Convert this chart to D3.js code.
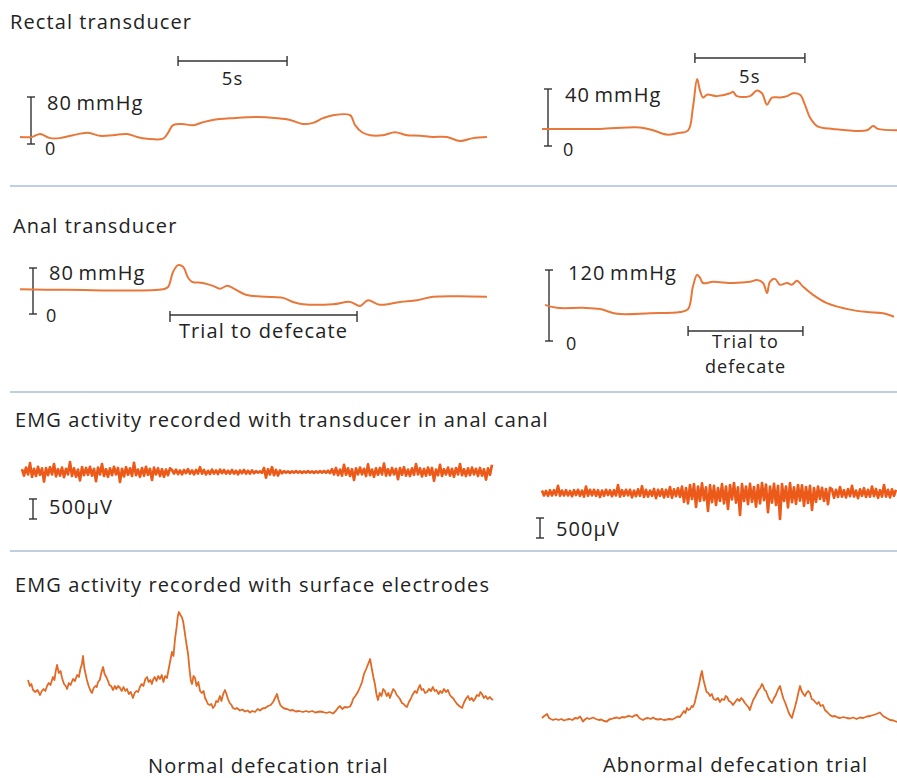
<!DOCTYPE html>
<html>
<head>
<meta charset="utf-8">
<script src="https://cdn.jsdelivr.net/npm/d3@7"></script>
<style>
  body { margin: 0; background: #fff; }
  svg { display: block; }
  text { font-family: "Open Sans", sans-serif; fill: #222; font-weight: 500; letter-spacing: 1.1px; }
</style>
</head>
<body>
<svg id="chart" width="897" height="778"></svg>
<script>
// ---- data: [time (s), pressure (mmHg)] ----
var rectalNormal = [[0,12],[0.55,12],[0.92,17],[1.38,10],[1.83,10],[2.43,15],[3.12,19],[3.67,14],[4.27,15],[4.91,17],[5.37,12],[5.83,9],[6.56,9],[6.79,19],[7.02,32],[7.43,34],[7.94,32],[8.39,37],[8.85,41],[9.77,44],[10.87,46],[11.79,44],[12.39,41],[12.98,34],[13.44,36],[13.9,44],[14.36,49],[15.14,49],[15.37,32],[15.69,20],[16.06,15],[16.65,15],[17.2,20],[17.75,15],[18.35,14],[18.94,12],[19.59,12],[20.18,5],[20.78,10],[21.42,12]];
var rectalAbnormal = [[0,12],[1.14,12],[2.64,12],[4.45,13],[5.05,11],[5.68,8],[6.14,9],[6.64,11],[6.86,27],[7.05,47],[7.18,39],[7.32,34],[7.5,36],[7.95,35],[8.55,37],[8.68,38],[8.86,35],[9.45,35],[9.77,39],[10.0,37],[10.23,29],[10.45,34],[10.82,34],[11.14,35],[11.41,37],[11.73,36],[11.95,29],[12.18,20],[12.5,14],[13.23,12],[14.77,11],[15.05,14],[15.27,12],[16.14,11]];
var analNormal = [[0,43],[2.16,42],[6.56,43],[6.79,47],[7.02,73],[7.25,85],[7.48,82],[7.71,63],[7.89,56],[8.39,54],[8.85,49],[9.17,44],[9.5,49],[9.77,45],[10.41,33],[11.33,30],[12.06,28],[12.52,21],[12.98,17],[14.36,17],[15.14,21],[15.6,14],[15.96,24],[16.51,16],[17.43,21],[18.21,24],[18.94,30],[20.18,31],[21.42,30]];
var analAbnormal = [[0.14,61],[0.68,56],[1.86,56],[2.64,54],[3.41,46],[4.91,47],[6.27,49],[6.64,54],[6.86,92],[7.05,112],[7.18,107],[7.32,98],[7.77,100],[8.68,98],[9.45,100],[9.77,103],[10.05,98],[10.23,81],[10.36,100],[10.59,105],[10.82,95],[11.14,98],[11.36,95],[11.59,102],[11.86,92],[12.32,78],[12.95,64],[14,53],[14.77,49],[15.5,47],[16,41]];

// EMG, transducer in anal canal (µV, one sample per step)
var emgCanalNormal = [
  70,-90,110,-60,220,-120,80,-100,130,-70,90,-240,100,-80,120,-60,200,-110,70,-90,
  110,-130,80,-60,250,-100,90,-120,60,-210,120,-80,100,-70,130,-90,80,-230,110,-60,
  200,-100,70,-120,90,-80,130,-60,100,-250,80,-110,120,-70,90,-100,230,-80,60,-120,
  100,-90,130,-70,80,-200,110,-60,90,-100,70,-120,60,-80,90,
  50,-40,60,-50,40,-60,50,-30,70,-40,40,-60,50,-40,120,-40,50,-60,30,-50,
  60,-40,40,-50,60,-30,50,-40,30,-40,50,-40,30,-60,40,-30,50,-40,30,-40,40,-30,
  20,-15,15,-20,100,-140,70,-60,120,-80,50,-90,40,-30,20,-15,15,-20,15,-15,
  20,-15,15,-20,15,-15,20,-15,15,-20,15,-15,20,-15,25,-20,30,-25,
  70,-60,100,-80,60,-90,180,-70,90,-100,70,-200,90,-60,110,-60,80,-100,190,-80,
  60,-120,90,-70,100,-60,210,-90,70,-80,100,-60,80,-180,100,-70,120,-90,60,-100,
  90,-70,200,-60,90,-110,80,-90,110,-70,100,-220,60,-80,180,-100,70,-60,110,-90,
  80,-120,100,-60,200,-80,70,-100,90,-80,110,-60,80,-100,100,-90,70,-190,90,-70,180
];
var emgCanalAbnormal = [
  60,-60,50,-70,70,-60,70,-50,180,-70,60,-60,70,-60,50,-80,70,-50,80,-70,
  60,-90,160,-70,80,-60,80,-70,70,-100,60,-70,80,-50,70,-80,70,-60,200,-90,
  70,-70,80,-60,80,-110,60,-80,90,-70,170,-100,80,-90,60,-70,100,-130,80,-70,
  90,-110,80,-90,150,-120,90,-80,120,-100,
  160,-220,120,-260,200,-150,220,-350,160,-200,240,-180,140,-450,200,-230,180,-300,120,-200,
  220,-260,160,-400,200,-160,250,-240,140,-550,220,-200,160,-280,230,-220,150,-340,200,-260,
  250,-180,210,-480,160,-240,230,-300,180,-650,220,-200,160,-360,250,-230,140,-270,200,-190,
  190,-320,150,-250,180,-420,120,-220,160,-150,130,-200,100,-280,130,
  90,-120,80,-100,150,-90,70,-110,100,-80,180,-90,60,-130,90,-70,120,-100,80,-90,
  160,-80,100,-120,70,-90,200,-90,80,-110,90,-70,80
];

// EMG, surface electrodes: [time (s), amplitude (µV)]
var surfaceNormal = [[0.37,360],[0.45,300],[0.52,320],[0.6,260],[0.7,240],[0.8,260],[0.92,210],[1.0,250],[1.08,270],[1.16,250],[1.24,300],[1.32,330],[1.4,310],[1.51,390],[1.58,360],[1.64,450],[1.7,510],[1.78,430],[1.86,450],[1.93,380],[2.02,320],[2.1,300],[2.16,270],[2.24,330],[2.32,310],[2.43,370],[2.52,350],[2.62,410],[2.7,390],[2.77,470],[2.84,520],[2.89,600],[2.95,480],[3.01,420],[3.07,360],[3.15,300],[3.22,260],[3.3,230],[3.38,280],[3.46,300],[3.52,290],[3.58,340],[3.66,360],[3.74,440],[3.81,490],[3.88,420],[3.96,390],[4.04,350],[4.1,310],[4.18,300],[4.27,260],[4.35,300],[4.42,270],[4.5,300],[4.59,280],[4.67,250],[4.75,290],[4.83,250],[4.91,270],[4.99,220],[5.08,240],[5.18,180],[5.26,230],[5.34,250],[5.42,240],[5.5,290],[5.58,320],[5.66,300],[5.75,370],[5.83,390],[5.9,340],[5.98,360],[6.05,320],[6.1,360],[6.18,390],[6.26,350],[6.34,400],[6.42,370],[6.5,410],[6.58,340],[6.66,400],[6.74,380],[6.82,470],[6.9,560],[6.97,640],[7.04,600],[7.11,770],[7.18,880],[7.24,1000],[7.29,1040],[7.36,1010],[7.42,990],[7.48,950],[7.55,850],[7.62,740],[7.71,620],[7.78,460],[7.84,350],[7.89,320],[7.96,400],[8.03,380],[8.1,300],[8.18,340],[8.26,250],[8.34,230],[8.42,250],[8.49,180],[8.56,150],[8.62,120],[8.7,110],[8.78,120],[8.85,80],[8.93,100],[9.0,150],[9.08,140],[9.17,200],[9.24,150],[9.32,220],[9.4,260],[9.47,220],[9.54,170],[9.62,130],[9.7,110],[9.77,80],[9.86,70],[9.95,80],[10.09,55],[10.2,65],[10.32,45],[10.44,55],[10.55,35],[10.66,50],[10.78,40],[10.9,70],[11.01,55],[11.12,75],[11.25,80],[11.38,100],[11.5,110],[11.61,140],[11.7,180],[11.79,220],[11.86,160],[11.94,110],[12.02,90],[12.12,75],[12.25,70],[12.39,55],[12.52,60],[12.65,45],[12.8,50],[12.98,40],[13.12,50],[13.25,40],[13.4,50],[13.55,35],[13.76,45],[13.9,40],[14.05,30],[14.2,40],[14.36,25],[14.48,50],[14.58,80],[14.68,100],[14.78,70],[14.9,90],[15.02,85],[15.14,95],[15.22,130],[15.28,170],[15.38,200],[15.5,240],[15.6,290],[15.69,340],[15.78,420],[15.88,470],[15.97,520],[16.06,570],[16.14,470],[16.22,380],[16.28,320],[16.35,220],[16.42,160],[16.5,230],[16.58,200],[16.66,270],[16.74,250],[16.82,200],[16.9,230],[16.97,180],[17.05,230],[17.12,270],[17.2,250],[17.28,210],[17.36,190],[17.43,170],[17.52,130],[17.6,120],[17.68,100],[17.75,90],[17.84,140],[17.92,170],[18.0,210],[18.12,250],[18.2,230],[18.28,280],[18.35,310],[18.42,260],[18.5,270],[18.58,230],[18.67,240],[18.76,270],[18.85,250],[18.94,290],[19.02,250],[19.1,260],[19.2,220],[19.28,250],[19.36,230],[19.45,270],[19.54,240],[19.63,260],[19.72,210],[19.8,190],[19.86,180],[19.95,150],[20.05,120],[20.15,100],[20.28,80],[20.36,130],[20.45,170],[20.55,200],[20.63,160],[20.72,180],[20.8,150],[20.87,170],[20.96,210],[21.05,200],[21.12,240],[21.19,220],[21.28,180],[21.36,200],[21.45,170],[21.56,190],[21.63,170],[21.7,160]];
var surfaceAbnormal = [[0,70],[0.1,90],[0.23,110],[0.32,70],[0.4,60],[0.5,50],[0.62,60],[0.75,50],[0.88,60],[1.0,45],[1.14,55],[1.25,60],[1.38,50],[1.5,70],[1.62,65],[1.73,85],[1.8,60],[1.86,35],[1.95,55],[2.05,70],[2.15,60],[2.32,75],[2.45,60],[2.58,50],[2.7,55],[2.82,40],[2.95,35],[3.05,55],[3.15,60],[3.28,70],[3.41,75],[3.52,65],[3.64,80],[3.75,75],[3.86,85],[3.98,90],[4.1,80],[4.2,95],[4.32,100],[4.42,70],[4.5,60],[4.59,50],[4.7,65],[4.82,70],[4.94,60],[5.05,75],[5.16,60],[5.28,55],[5.4,60],[5.54,50],[5.68,55],[5.8,60],[5.92,55],[6.05,70],[6.17,85],[6.27,80],[6.36,110],[6.45,140],[6.52,120],[6.59,170],[6.66,150],[6.74,160],[6.8,190],[6.86,180],[6.94,220],[7.02,300],[7.09,360],[7.16,430],[7.22,500],[7.27,540],[7.33,460],[7.41,390],[7.48,330],[7.56,320],[7.64,290],[7.72,310],[7.8,260],[7.9,250],[8.0,270],[8.09,230],[8.18,260],[8.28,250],[8.35,290],[8.41,280],[8.5,240],[8.58,230],[8.68,200],[8.78,230],[8.88,260],[8.98,240],[9.06,270],[9.14,250],[9.22,220],[9.3,200],[9.38,180],[9.45,150],[9.52,200],[9.6,250],[9.68,280],[9.77,320],[9.84,350],[9.92,370],[10.0,410],[10.05,390],[10.12,350],[10.18,340],[10.23,310],[10.3,270],[10.38,240],[10.45,220],[10.55,270],[10.63,300],[10.72,350],[10.82,390],[10.9,320],[10.98,260],[11.06,220],[11.14,170],[11.22,120],[11.3,90],[11.36,70],[11.42,120],[11.5,180],[11.58,250],[11.66,330],[11.73,390],[11.8,340],[11.88,310],[11.95,290],[12.02,320],[12.1,340],[12.18,320],[12.26,260],[12.34,250],[12.42,230],[12.5,210],[12.58,230],[12.66,190],[12.77,200],[12.86,150],[12.96,130],[13.09,100],[13.2,85],[13.32,90],[13.44,75],[13.55,70],[13.7,80],[13.85,70],[14.0,65],[14.14,75],[14.3,60],[14.45,75],[14.6,70],[14.77,85],[14.92,90],[15.06,100],[15.2,110],[15.36,125],[15.5,90],[15.66,70],[15.82,50],[15.98,45],[16.14,30]];

// labels
var sectionTitles = ["Rectal transducer", "Anal transducer",
  "EMG activity recorded with transducer in anal canal",
  "EMG activity recorded with surface electrodes"];
var trialLabels = ["Normal defecation trial", "Abnormal defecation trial"];
var pressureMax = { rectalNormal: 80, rectalAbnormal: 40, analNormal: 80, analAbnormal: 120 };

// ---- drawing ----
var svg = d3.select('#chart');
var pressColor = '#e8773a', canalColor = '#ec5a1a', surfColor = '#e16a26', ink = '#333';

var xLeft = d3.scaleLinear().domain([0, 21.5]).range([20, 20 + 21.5 * 21.8]);
var xRight = d3.scaleLinear().domain([0, 16.2]).range([542, 542 + 16.2 * 22]);

function trace(data, x, y, color, width, curve) {
    var line = d3.line()
        .x(function(d) { return x(d[0]); })
        .y(function(d) { return y(d[1]); })
        .curve(curve || d3.curveLinear);
    svg.append('path')
        .datum(data)
        .attr('d', line)
        .attr('fill', 'none')
        .attr('stroke', color)
        .attr('stroke-width', width)
        .attr('stroke-linejoin', 'round');
}

function vBar(x, y1, y2, tick) {
    svg.append('line').attr('x1', x).attr('x2', x).attr('y1', y1).attr('y2', y2)
        .attr('stroke', ink).attr('stroke-width', 1.4);
    [y1, y2].forEach(function(yy) {
        svg.append('line').attr('x1', x - tick).attr('x2', x + tick).attr('y1', yy).attr('y2', yy)
            .attr('stroke', ink).attr('stroke-width', 1.4);
    });
}

function hBar(x1, x2, y, up, down) {
    svg.append('line').attr('x1', x1).attr('x2', x2).attr('y1', y).attr('y2', y)
        .attr('stroke', ink).attr('stroke-width', 1.6);
    [x1, x2].forEach(function(xx) {
        svg.append('line').attr('x1', xx).attr('x2', xx).attr('y1', y - up).attr('y2', y + down)
            .attr('stroke', ink).attr('stroke-width', 1.4);
    });
}

function label(txt, x, y, size, anchor) {
    return svg.append('text').attr('x', x).attr('y', y)
        .attr('font-size', size).attr('text-anchor', anchor || 'start').text(txt);
}

// separators
[186, 392, 551].forEach(function(y) {
    svg.append('line').attr('x1', 10).attr('x2', 897).attr('y1', y).attr('y2', y)
        .attr('stroke', '#a9bfd6').attr('stroke-width', 1.3);
});

// section titles
label(sectionTitles[0], 10, 29, 20);
label(sectionTitles[1], 13, 233, 20);
label(sectionTitles[2], 15, 427, 20);
label(sectionTitles[3], 15, 592, 20);

var smooth = d3.curveCatmullRom.alpha(0.5);

// rectal transducer
var yRecN = d3.scaleLinear().domain([0, pressureMax.rectalNormal]).range([144, 97]);
var yRecA = d3.scaleLinear().domain([0, pressureMax.rectalAbnormal]).range([146, 89]);
vBar(31, yRecN(pressureMax.rectalNormal), yRecN(0), 4);
vBar(548, yRecA(pressureMax.rectalAbnormal), yRecA(0), 4);
label(pressureMax.rectalNormal + '\u2009mmHg', 47, 110, 20);
label('0', 45, 155, 18);
label(pressureMax.rectalAbnormal + '\u2009mmHg', 565, 102, 20);
label('0', 563, 156, 18);
hBar(xLeft(7.25), xLeft(12.25), 61, 5, 5);
label('5s', xLeft(9.75), 85, 18.5, 'middle');
hBar(xRight(6.95), xRight(11.95), 58, 5, 5);
label('5s', xRight(9.45), 83, 18.5, 'middle');
trace(rectalNormal, xLeft, yRecN, pressColor, 2, smooth);
trace(rectalAbnormal, xRight, yRecA, pressColor, 2, smooth);

// anal transducer
var yAnN = d3.scaleLinear().domain([0, pressureMax.analNormal]).range([314, 268]);
var yAnA = d3.scaleLinear().domain([0, pressureMax.analAbnormal]).range([341, 270]);
vBar(33, yAnN(pressureMax.analNormal), yAnN(0), 4);
vBar(549, yAnA(pressureMax.analAbnormal), yAnA(0), 4);
label(pressureMax.analNormal + '\u2009mmHg', 49, 280, 20);
label('0', 46, 322, 18);
label(pressureMax.analAbnormal + '\u2009mmHg', 568, 280, 20);
label('0', 566, 350, 18);
hBar(xLeft(6.88), xLeft(15.46), 315, 4, 7);
label('Trial to defecate', xLeft(11.17), 338, 20, 'middle');
hBar(xRight(6.64), xRight(11.86), 331, 5, 5);
label('Trial to', xRight(9.25), 348, 18, 'middle');
label('defecate', xRight(9.25), 373, 18, 'middle');
trace(analNormal, xLeft, yAnN, pressColor, 2, smooth);
trace(analAbnormal, xRight, yAnA, pressColor, 2, smooth);

// EMG anal canal
var iLeft = d3.scaleLinear().domain([0, emgCanalNormal.length - 1]).range([22, 492]);
var iRight = d3.scaleLinear().domain([0, emgCanalAbnormal.length - 1]).range([542, 896]);
var yCanN = d3.scaleLinear().domain([-500, 500]).range([492, 452]);
var yCanA = d3.scaleLinear().domain([-500, 500]).range([513, 473]);
trace(emgCanalNormal.map(function(v, i) { return [i, v]; }), iLeft, yCanN, canalColor, 2.7);
trace(emgCanalAbnormal.map(function(v, i) { return [i, v]; }), iRight, yCanA, canalColor, 2.7);
var emgBar = yCanN(0) - yCanN(500);
vBar(33, 499, 499 + emgBar, 4);
label('500µV', 49, 514, 20);
vBar(540, 518, 518 + emgBar, 4);
label('500µV', 556, 536, 20);

// EMG surface electrodes
var ySurN = d3.scaleLinear().domain([0, 1050]).range([716, 611]);
var ySurA = d3.scaleLinear().domain([0, 1050]).range([725, 620]);
trace(surfaceNormal, xLeft, ySurN, surfColor, 1.8);
trace(surfaceAbnormal, xRight, ySurA, surfColor, 1.8);

label(trialLabels[0], 148, 773, 20);
label(trialLabels[1], 603, 772, 20);
</script>
</body>
</html>
